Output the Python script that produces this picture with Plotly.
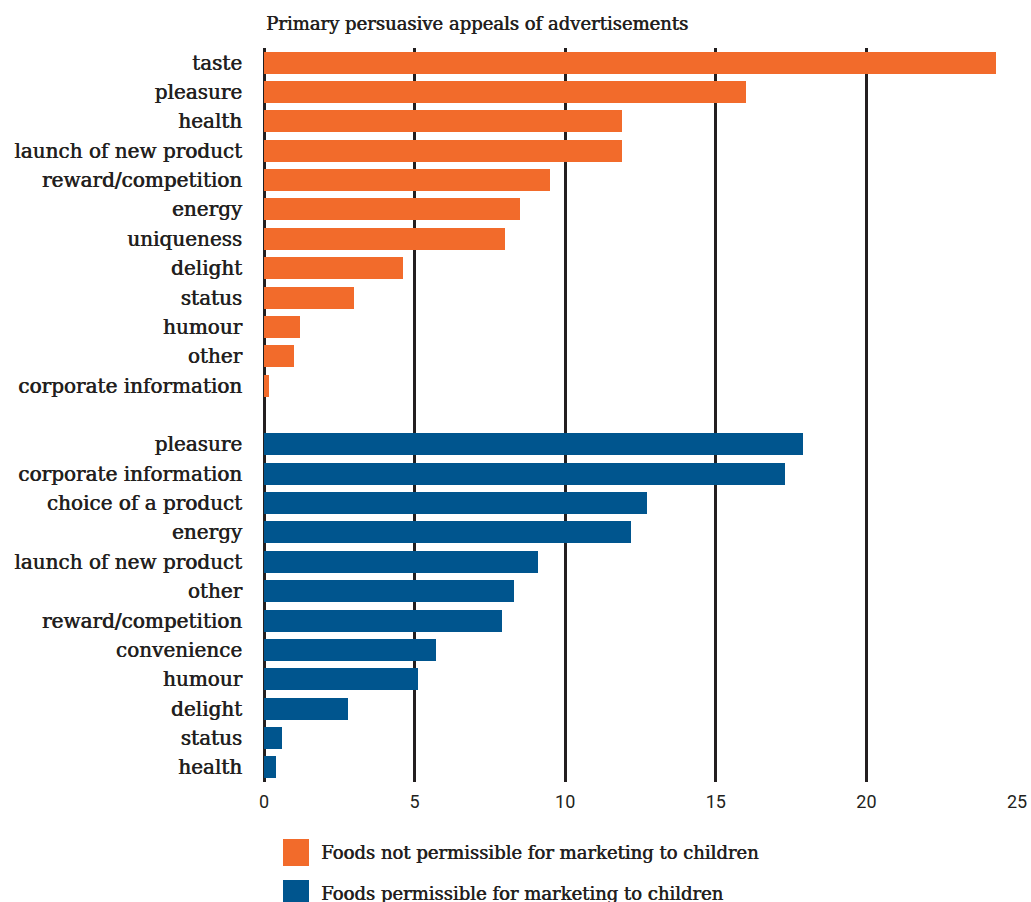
import plotly.graph_objects as go

# ---- data ----
title_text = "Primary persuasive appeals of advertisements"

not_perm_labels = ["taste", "pleasure", "health", "launch of new product", "reward/competition",
                   "energy", "uniqueness", "delight", "status", "humour", "other",
                   "corporate information"]
not_perm_values = [24.3, 16.0, 11.9, 11.9, 9.5, 8.5, 8.0, 4.6, 3.0, 1.2, 1.0, 0.15]

perm_labels = ["pleasure", "corporate information", "choice of a product", "energy",
               "launch of new product", "other", "reward/competition", "convenience",
               "humour", "delight", "status", "health"]
perm_values = [17.9, 17.3, 12.7, 12.2, 9.1, 8.3, 7.9, 5.7, 5.1, 2.8, 0.6, 0.4]

series_names = ["Foods not permissible for marketing to children",
                "Foods permissible for marketing to children"]
x_ticks = [0, 5, 10, 15, 20, 25]

# ---- styling ----
ORANGE = "#f26b2b"
BLUE = "#00558e"
INK = "#231f20"
FONT = "DejaVu Serif"
TICKFONT = "Roboto"
SHADOW = "0.6px 0 0 #231f20"

W, H = 1031, 902
ML, MR, MT, MB = 264, 14, 48, 120
PW, PH = W - ML - MR, H - MT - MB

def px_x(px):
    return (px - ML) / PW

def px_y(py):
    return 1 - (py - MT) / PH

# row positions: group 1, one blank row, group 2
pos1 = list(range(len(not_perm_labels)))
pos2 = [len(not_perm_labels) + 1 + i for i in range(len(perm_labels))]

fig = go.Figure()
fig.add_trace(go.Bar(x=not_perm_values, y=pos1, orientation="h", marker_color=ORANGE,
                     marker_line_width=0, width=0.75, name=series_names[0], showlegend=False))
fig.add_trace(go.Bar(x=perm_values, y=pos2, orientation="h", marker_color=BLUE,
                     marker_line_width=0, width=0.75, name=series_names[1], showlegend=False))

fig.update_layout(
    width=W, height=H,
    margin=dict(l=ML, r=MR, t=MT, b=MB, pad=0, autoexpand=False),
    paper_bgcolor="white", plot_bgcolor="white",
    font=dict(family=FONT, color=INK),
    xaxis=dict(range=[0, 25], tickvals=x_ticks, showgrid=True, gridcolor=INK, gridwidth=2.5,
               zeroline=True, zerolinecolor=INK, zerolinewidth=3, showline=False, automargin=False,
               ticks="", tickfont=dict(size=18, family=TICKFONT, color=INK), ticklabelstandoff=7,
               fixedrange=True),
    yaxis=dict(tickvals=pos1 + pos2, automargin=False,
               ticktext=not_perm_labels + perm_labels, showgrid=False, zeroline=False,
               showline=False, ticks="", tickfont=dict(size=20, family=FONT, color=INK, shadow=SHADOW),
               ticklabelstandoff=21, fixedrange=True),
    bargap=0,
    hovermode=False,
)
fig.update_yaxes(range=[pos2[-1] + 0.5, -0.5])

annotations = [dict(text=title_text, xref="paper", yref="paper", x=0, y=px_y(24),
                    xanchor="left", yanchor="middle", showarrow=False,
                    font=dict(size=18, family=FONT, color=INK, shadow=SHADOW))]
shapes = []
legend_rows = [(ORANGE, series_names[0], 839), (BLUE, series_names[1], 880)]
for color, name, top in legend_rows:
    shapes.append(dict(type="rect", xref="paper", yref="paper",
                       x0=px_x(283), x1=px_x(309), y0=px_y(top), y1=px_y(top + 27),
                       fillcolor=color, line_width=0))
    annotations.append(dict(text=name, xref="paper", yref="paper", x=px_x(319),
                            y=px_y(top + 13.5), xanchor="left", yanchor="middle",
                            showarrow=False, font=dict(size=18, family=FONT, color=INK, shadow=SHADOW)))
fig.update_layout(annotations=annotations, shapes=shapes)

fig.write_html("out.html", config={"displayModeBar": False},
               post_script="document.body.style.margin='0';document.body.style.overflow='hidden';")
